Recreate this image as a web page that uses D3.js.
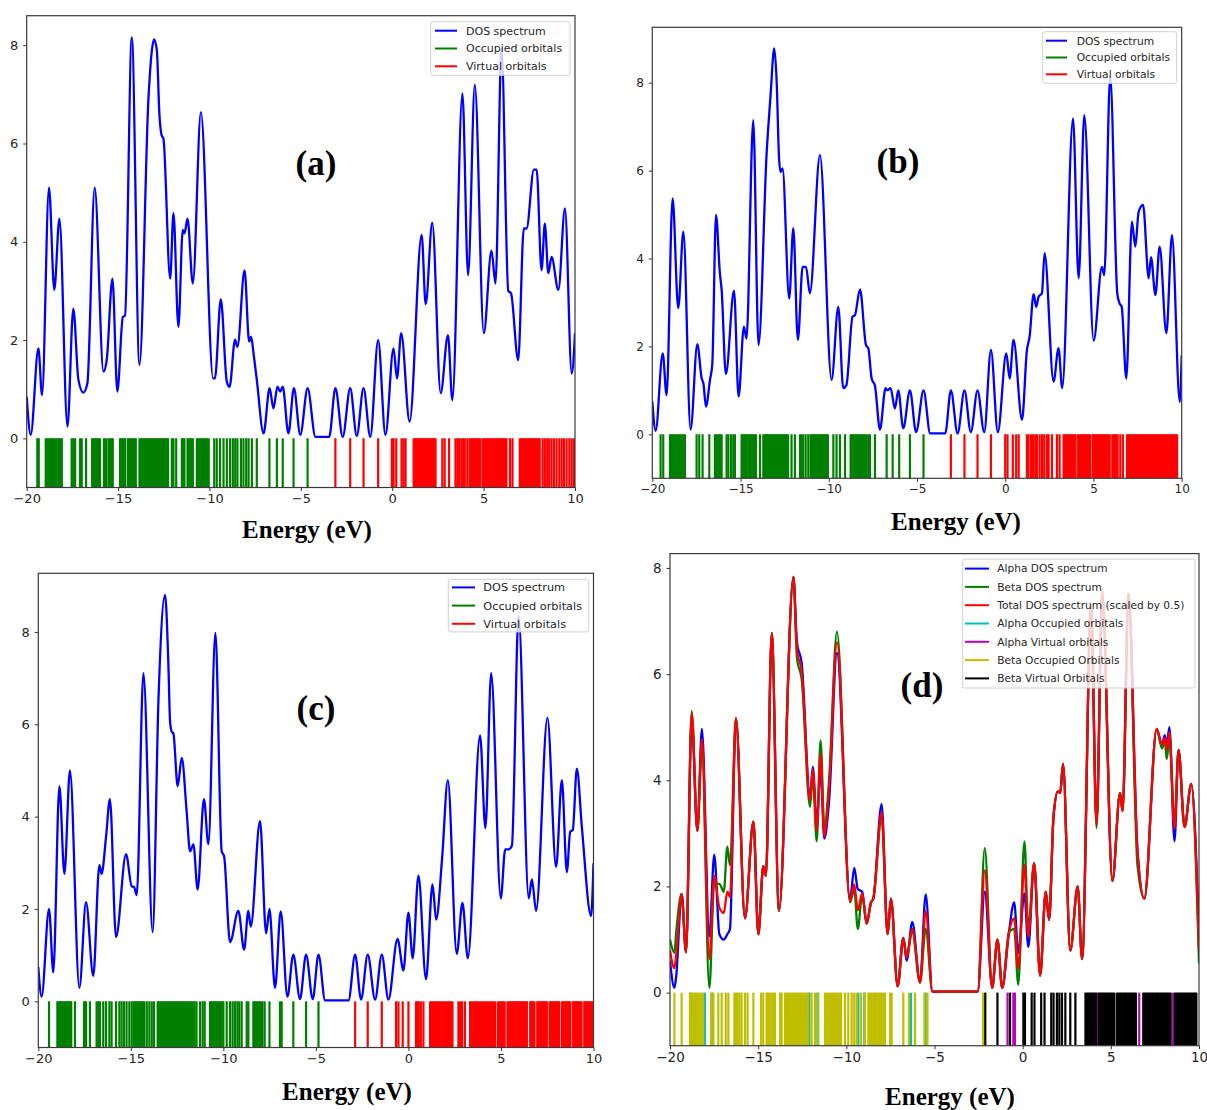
<!DOCTYPE html>
<html>
<head>
<meta charset="utf-8">
<script src="https://cdn.jsdelivr.net/npm/d3@7"></script>
<style>
body { margin: 0; background: #fff; }
</style>
</head>
<body>
<div id="chart-area"></div>
<script>
// ---------- data ----------
var xTicks = [-20, -15, -10, -5, 0, 5, 10];
var yTicks = [0, 2, 4, 6, 8];
var panelNames = ['(a)', '(b)', '(c)', '(d)'];
var xTitle = 'Energy (eV)';
var legendLabels = ['DOS spectrum', 'Occupied orbitals', 'Virtual orbitals'];
var legendLabelsD = ['Alpha DOS spectrum', 'Beta DOS spectrum', 'Total DOS spectrum (scaled by 0.5)',
  'Alpha Occupied orbitals', 'Alpha Virtual orbitals', 'Beta Occupied Orbitals', 'Beta Virtual Orbitals'];

// (a)
var aEnergy = [-20,-19.78,-19.36,-19.16,-18.78,-18.49,-18.21,-17.77,-17.45,-17.17,-16.9,-16.68,-16.28,-15.8,-15.62,-15.31,-15.04,-14.74,-14.62,-14.25,-13.83,-13.34,-13.15,-13.03,-12.88,-12.74,-12.62,-12.52,-12.15,-11.97,-11.7,-11.46,-11.37,-11.2,-10.91,-10.47,-9.8,-9.7,-9.38,-9.05,-8.9,-8.6,-8.47,-8.08,-7.83,-7.72,-7.59,-7.41,-7.04,-6.71,-6.5,-6.28,-6.13,-5.99,-5.68,-5.38,-5.03,-4.63,-4.2,-3.45,-3.11,-2.71,-2.3,-1.94,-1.57,-1.2,-0.77,-0.37,0.07,0.26,0.49,0.95,1.61,1.83,2.19,2.65,3.05,3.29,3.84,4.15,4.52,5.01,5.43,5.65,5.98,6.35,6.5,6.89,7.2,7.35,7.75,7.9,8.17,8.35,8.54,8.72,9.09,9.45,9.82,10];
var aDos = [0.85,0.07,1.83,0.88,5.1,3.02,4.47,0.24,2.64,1.19,0.93,1.12,5.1,1.36,1.6,3.25,0.95,2.47,2.5,8.16,1.49,6.9,7.9,8.12,7.9,6.6,6.17,6.1,3.25,4.58,2.27,4.24,4.17,4.47,3.15,6.64,1.22,1.22,2.83,1.15,1.05,2.01,1.86,3.42,1.97,2.07,1.73,1.19,0.1,1.02,0.61,1.05,0.95,1.05,0.1,1.02,0.07,1.02,0.03,0.03,1.02,0.03,1.02,0.05,1.02,0.03,2.0,0.07,1.83,1.22,2.14,0.34,4.14,2.73,4.39,0.92,2.1,0.78,7.02,3.32,7.19,2.14,3.82,3.15,7.93,3.0,2.95,1.59,4.27,4.27,5.47,5.47,3.42,4.37,3.36,3.69,3.02,4.68,1.32,2.14];
var aOccupied = [-19.42,-19.34,-18.96,-18.88,-18.81,-18.72,-18.67,-18.59,-18.54,-18.45,-18.36,-18.27,-18.21,-18.14,-18.08,-17.54,-17.45,-17.35,-17.08,-16.99,-16.75,-16.42,-16.35,-16.28,-16.2,-16.13,-16.06,-15.99,-15.77,-15.66,-15.53,-15.44,-15.35,-15.29,-14.89,-14.82,-14.74,-14.67,-14.62,-14.47,-14.4,-14.33,-14.25,-14.18,-14.11,-14.03,-13.83,-13.74,-13.68,-13.62,-13.55,-13.48,-13.42,-13.35,-13.28,-13.21,-13.15,-13.08,-13.01,-12.95,-12.88,-12.81,-12.74,-12.68,-12.61,-12.54,-12.47,-12.4,-12.33,-12.27,-12.06,-11.97,-11.82,-11.51,-11.44,-11.37,-11.2,-11.13,-11.06,-10.98,-10.91,-10.69,-10.62,-10.55,-10.48,-10.41,-10.34,-10.27,-10.2,-10.13,-10.04,-9.74,-9.6,-9.42,-9.23,-9.05,-8.87,-8.72,-8.59,-8.47,-8.28,-8.14,-7.99,-7.86,-7.68,-7.41,-6.72,-6.31,-5.99,-5.4,-4.63];
var aVirtual = [-3.11,-2.3,-1.57,-0.77,-0.02,0.07,0.22,0.51,0.62,0.73,1.17,1.24,1.3,1.37,1.44,1.5,1.57,1.64,1.7,1.77,1.84,1.9,1.97,2.03,2.1,2.17,2.23,2.3,2.37,2.74,2.87,3.11,3.46,3.56,3.66,3.78,3.88,3.97,4.11,4.24,4.31,4.39,4.46,4.53,4.61,4.68,4.75,4.83,4.97,5.05,5.12,5.19,5.27,5.34,5.42,5.5,5.58,5.67,5.74,5.81,5.89,5.96,6.03,6.1,6.18,6.25,6.44,6.58,6.98,7.05,7.12,7.2,7.27,7.35,7.42,7.49,7.57,7.64,7.71,7.78,7.86,7.93,8.0,8.07,8.23,8.35,8.48,8.59,8.72,8.85,8.99,9.14,9.27,9.4,9.54,9.69,9.82,9.95];

// (b)
var bEnergy = [-20,-19.81,-19.41,-19.19,-18.85,-18.53,-18.24,-17.83,-17.45,-17.2,-17.1,-16.96,-16.73,-16.6,-16.39,-16.17,-16.07,-15.83,-15.37,-15.11,-14.81,-14.66,-14.28,-13.98,-13.52,-13.3,-13.09,-12.95,-12.82,-12.73,-12.62,-12.24,-12.01,-11.75,-11.48,-11.29,-11.07,-10.5,-9.84,-9.46,-9.18,-9.0,-8.65,-8.52,-8.23,-7.89,-7.76,-7.57,-7.38,-7.1,-6.78,-6.67,-6.5,-6.25,-6.06,-5.78,-5.4,-5.05,-4.63,-4.25,-3.4,-3.08,-2.7,-2.31,-1.95,-1.57,-1.19,-0.81,-0.42,0.06,0.25,0.47,0.95,1.23,1.38,1.61,1.76,1.89,2.08,2.23,2.74,3.02,3.23,3.84,4.16,4.48,5.01,5.48,5.61,5.95,6.35,6.48,6.6,6.86,7.18,7.37,7.56,7.81,8.13,8.26,8.51,8.75,9.13,9.45,9.89,10];
var bDos = [0.75,0.08,1.84,0.89,5.37,2.87,4.61,0.11,2.05,1.27,1.15,0.63,1.24,1.6,4.99,3.66,3.28,1.37,3.27,0.86,2.45,2.18,7.15,2.03,6.4,7.7,8.78,8.0,6.3,5.97,6.05,3.09,4.69,2.15,3.81,3.81,3.21,6.35,1.24,2.9,1.05,1.12,2.68,2.71,3.3,2.03,1.96,1.27,1.1,0.11,1.05,1.0,1.05,0.59,1.0,0.14,1.0,0.05,1.0,0.02,0.02,1.0,0.02,1.0,0.05,1.0,0.05,1.92,0.05,1.84,1.27,2.15,0.33,1.92,2.22,3.19,2.9,3.13,3.21,4.12,1.2,1.96,1.05,7.19,3.55,7.26,2.13,3.81,3.62,8.15,3.2,2.98,2.9,1.27,4.84,4.27,5.06,5.22,3.55,4.03,3.17,4.27,2.3,4.53,0.74,1.8];
var bOccupied = [-19.53,-19.38,-19.0,-18.93,-18.85,-18.77,-18.68,-18.6,-18.5,-18.42,-18.33,-18.25,-18.15,-17.49,-17.34,-17.15,-16.77,-16.45,-16.36,-16.27,-16.17,-16.07,-15.79,-15.69,-15.54,-15.41,-15.32,-14.94,-14.87,-14.79,-14.72,-14.66,-14.56,-14.49,-14.42,-14.34,-14.27,-14.2,-14.13,-13.9,-13.71,-13.64,-13.57,-13.5,-13.43,-13.36,-13.29,-13.22,-13.15,-13.08,-13.01,-12.94,-12.87,-12.8,-12.73,-12.66,-12.59,-12.52,-12.45,-12.38,-12.31,-12.11,-11.92,-11.63,-11.54,-11.45,-11.31,-11.16,-11.03,-10.96,-10.89,-10.82,-10.75,-10.68,-10.61,-10.54,-10.47,-10.4,-10.33,-10.26,-10.19,-10.12,-10.05,-9.74,-9.56,-9.37,-9.08,-8.76,-8.69,-8.6,-8.52,-8.43,-8.35,-8.26,-8.18,-8.1,-8.01,-7.93,-7.85,-7.75,-7.67,-7.38,-6.72,-6.38,-6.01,-5.4,-4.63];
var bVirtual = [-3.08,-2.31,-1.57,-0.81,0.0,0.13,0.43,0.62,0.76,1.23,1.32,1.46,1.57,1.7,1.8,1.95,2.08,2.21,2.36,2.46,2.65,2.93,3.08,3.31,3.38,3.46,3.53,3.61,3.68,3.76,3.83,3.91,3.98,4.13,4.2,4.28,4.35,4.43,4.5,4.58,4.65,4.73,4.8,4.95,5.02,5.1,5.17,5.25,5.32,5.4,5.47,5.55,5.62,5.7,5.77,5.85,5.92,6.07,6.14,6.22,6.29,6.37,6.52,6.67,6.9,6.97,7.05,7.12,7.2,7.27,7.35,7.42,7.5,7.57,7.65,7.72,7.8,7.87,7.95,8.02,8.1,8.17,8.25,8.32,8.4,8.47,8.55,8.62,8.7,8.77,8.85,8.92,9.0,9.07,9.15,9.22,9.3,9.37,9.45,9.52,9.6,9.67,9.74];

// (c)
var cEnergy = [-20,-19.82,-19.42,-19.19,-18.86,-18.59,-18.29,-17.78,-17.42,-17.03,-16.7,-16.58,-16.34,-16.13,-15.8,-15.26,-14.95,-14.83,-14.68,-14.32,-13.82,-13.51,-13.15,-12.97,-12.88,-12.79,-12.7,-12.47,-12.25,-11.98,-11.8,-11.62,-11.39,-11.05,-10.81,-10.43,-10.09,-9.96,-9.64,-9.19,-8.88,-8.65,-8.52,-8.02,-7.69,-7.51,-7.21,-6.9,-6.54,-6.22,-5.86,-5.53,-5.17,-4.86,-4.5,-3.24,-2.88,-2.56,-2.2,-1.8,-1.44,-1.08,-0.59,-0.27,0.0,0.23,0.54,0.95,1.3,1.5,1.82,2.13,2.61,2.92,3.21,3.87,4.16,4.47,4.99,5.23,5.4,5.59,5.95,6.5,6.67,6.9,7.51,7.98,8.29,8.56,8.74,8.88,9.1,9.37,9.87,10];
var cDos = [0.74,0.1,2.0,0.63,4.66,2.76,5.0,0.29,2.15,0.55,2.95,2.76,3.56,4.38,1.39,3.19,2.49,2.48,2.3,7.11,1.5,6.5,8.8,7.28,6.06,5.84,5.8,4.66,5.27,4.09,3.25,3.4,2.42,4.38,3.4,7.98,3.25,3.14,1.28,1.96,1.12,1.96,1.62,3.9,1.47,2.0,0.29,1.95,0.1,1.01,0.05,1.01,0.05,1.01,0.02,0.02,1.01,0.04,1.01,0.04,1.01,0.04,1.35,0.67,1.92,0.93,2.72,0.48,2.53,1.77,3.1,4.79,1.03,2.13,0.93,5.76,3.75,7.11,2.23,3.29,3.29,3.37,8.35,2.23,2.64,1.96,6.14,2.91,4.79,2.8,3.67,3.71,5.04,3.78,1.85,2.99];
var cOccupied = [-19.42,-18.97,-18.9,-18.83,-18.77,-18.7,-18.63,-18.56,-18.49,-18.43,-18.36,-18.29,-18.22,-18.02,-17.53,-17.42,-17.21,-16.85,-16.76,-16.67,-16.49,-16.34,-16.16,-16.04,-15.8,-15.62,-15.5,-15.37,-15.23,-15.08,-14.95,-14.83,-14.76,-14.69,-14.62,-14.55,-14.48,-14.41,-14.34,-14.27,-14.14,-14.0,-13.87,-13.75,-13.55,-13.48,-13.41,-13.34,-13.27,-13.2,-13.13,-13.06,-12.99,-12.92,-12.85,-12.78,-12.71,-12.64,-12.57,-12.5,-12.43,-12.36,-12.29,-12.2,-12.13,-12.06,-11.99,-11.92,-11.85,-11.75,-11.65,-11.55,-11.45,-11.26,-11.12,-11.01,-10.72,-10.65,-10.58,-10.51,-10.44,-10.37,-10.3,-10.23,-10.16,-10.09,-10.0,-9.82,-9.64,-9.5,-9.37,-9.24,-9.14,-9.01,-8.74,-8.65,-8.38,-8.31,-8.24,-8.17,-8.1,-8.03,-7.96,-7.89,-7.77,-7.51,-6.94,-6.85,-6.22,-5.53,-4.86];
var cVirtual = [-2.88,-2.2,-1.44,-0.67,-0.54,-0.31,0.0,0.41,0.49,0.56,0.67,0.81,1.17,1.24,1.31,1.38,1.46,1.53,1.6,1.68,1.75,1.84,1.92,1.99,2.06,2.14,2.22,2.3,2.38,2.7,2.79,2.9,3.05,3.33,3.4,3.48,3.55,3.63,3.7,3.78,3.85,3.93,4.0,4.08,4.15,4.23,4.3,4.38,4.45,4.53,4.6,4.68,4.83,4.9,4.98,5.05,5.13,5.2,5.35,5.43,5.5,5.58,5.65,5.73,5.8,5.88,5.95,6.03,6.1,6.18,6.25,6.33,6.4,6.58,6.66,6.73,6.81,6.96,7.03,7.11,7.18,7.26,7.33,7.41,7.48,7.63,7.7,7.78,7.85,7.93,8.0,8.08,8.15,8.3,8.38,8.45,8.53,8.6,8.68,8.75,8.9,8.98,9.05,9.13,9.2,9.28,9.35,9.5,9.58,9.65,9.73,9.8,9.88,9.96];

// (d) open shell: alpha, beta and half the total
var dEnergy = [-20,-19.75,-19.65,-19.34,-19.09,-18.77,-18.45,-18.19,-17.77,-17.49,-17.2,-16.95,-16.75,-16.6,-16.26,-15.75,-15.27,-14.99,-14.71,-14.56,-14.23,-13.82,-13.0,-12.8,-12.53,-12.06,-11.9,-11.68,-11.46,-11.25,-10.98,-10.53,-9.79,-9.55,-9.35,-9.1,-8.85,-8.6,-8.47,-8.0,-7.66,-7.47,-7.09,-6.77,-6.58,-6.26,-5.82,-5.5,-5.12,-2.55,-2.15,-1.73,-1.43,-1.16,-0.78,-0.48,-0.25,0.1,0.32,0.65,0.99,1.31,1.5,1.75,2.0,2.13,2.29,2.7,3.12,3.37,3.88,4.19,4.51,5.09,5.52,5.67,6.0,6.51,6.9,7.6,7.9,8.06,8.17,8.32,8.61,8.84,9.18,9.56,10];
var dAlphaDos = [0.6,0.09,0.3,1.86,0.76,5.2,3.05,4.97,1.06,2.6,1.1,1.0,1.1,1.2,5.17,1.4,3.22,1.1,2.38,2.2,6.77,1.54,7.83,6.6,6.2,3.7,4.25,3.2,4.2,2.9,3.6,6.4,1.75,2.35,1.95,1.9,1.3,1.7,1.77,3.55,1.1,1.77,0.12,1.03,0.6,1.33,0.19,1.85,0.02,0.02,1.9,0.09,1.0,0.09,1.13,1.7,0.75,1.87,0.86,2.44,0.32,1.9,1.37,3.32,3.79,3.76,4.31,0.79,2.0,0.63,7.3,3.19,7.5,2.1,3.76,3.42,7.52,2.7,1.77,4.97,4.67,4.85,4.65,5.0,2.85,4.57,3.12,3.93,1.1];
var dBetaDos = [1.0,0.75,1.13,1.86,0.76,5.3,3.05,4.6,0.09,2.05,2.05,1.9,2.75,2.4,5.17,1.4,3.22,1.1,2.38,2.2,6.77,1.54,7.83,6.3,5.9,3.5,4.1,2.85,4.75,3.1,4.0,6.8,1.7,1.95,1.2,1.85,1.3,1.7,1.77,3.3,1.1,1.77,0.12,1.03,0.7,1.15,0.19,1.2,0.02,0.02,2.72,0.09,1.0,0.09,1.13,1.2,0.15,2.85,1.2,2.44,0.32,1.9,1.37,3.32,3.79,3.76,4.31,0.79,2.0,0.63,7.3,3.1,7.6,2.1,3.76,3.42,7.52,2.4,1.77,4.97,4.6,4.75,4.4,4.8,3.2,4.57,3.12,3.93,0.55];
var dTotalDos = [0.8,0.46,0.7,1.86,0.76,5.27,3.05,4.77,0.63,2.2,1.6,1.5,1.9,1.8,5.17,1.4,3.22,1.1,2.38,2.2,6.77,1.54,7.83,6.45,6.05,3.62,4.2,3.05,4.5,2.95,3.85,6.6,1.72,2.04,1.55,1.87,1.3,1.7,1.77,3.4,1.1,1.77,0.12,1.03,0.66,1.2,0.19,1.54,0.02,0.02,2.3,0.09,1.0,0.09,1.13,1.4,0.45,2.41,1.05,2.44,0.32,1.9,1.37,3.32,3.79,3.76,4.31,0.79,2.0,0.63,7.3,3.15,7.55,2.1,3.76,3.42,7.52,2.65,1.77,4.97,4.67,4.8,4.57,4.9,3.08,4.57,3.12,3.93,0.8];
var dAlphaOccupied = [-18.02,-17.6,-12.1,-11.64,-9.32,-8.98,-6.33,-5.5];
var dAlphaVirtual = [-0.86,-0.53,-0.44,4.23,6.61,8.51];
var dBetaOccupied = [-19.75,-19.34,-18.87,-18.81,-18.74,-18.66,-18.57,-18.49,-18.4,-18.31,-18.21,-18.12,-17.67,-17.54,-17.26,-17.07,-16.84,-16.69,-16.35,-16.26,-16.16,-16.06,-15.94,-15.75,-15.6,-15.27,-14.84,-14.71,-14.52,-14.44,-14.35,-14.25,-14.15,-14.05,-13.76,-13.67,-13.48,-13.4,-13.32,-13.24,-13.15,-13.06,-12.97,-12.88,-12.8,-12.71,-12.62,-12.53,-12.44,-12.35,-12.26,-12.18,-11.97,-11.78,-11.59,-11.21,-11.12,-11.03,-10.94,-10.85,-10.76,-10.67,-10.58,-10.49,-10.4,-10.3,-10.08,-9.89,-9.7,-9.55,-9.41,-9.17,-8.94,-8.75,-8.66,-8.56,-8.47,-8.37,-8.28,-8.19,-8.09,-8.0,-7.9,-7.81,-7.52,-7.43,-6.77,-6.45,-6.1,-5.57,-5.4,-2.24];
var dBetaVirtual = [-2.12,-1.43,-0.72,0.04,0.13,0.51,0.67,1.05,1.24,1.62,1.75,1.94,2.08,2.23,2.42,2.7,2.99,3.56,3.63,3.71,3.79,3.86,3.94,4.02,4.1,4.17,4.33,4.41,4.48,4.56,4.64,4.71,4.79,4.87,4.95,5.02,5.1,5.18,5.33,5.41,5.49,5.56,5.64,5.72,5.8,5.87,5.95,6.03,6.1,6.18,6.26,6.34,6.42,6.84,6.92,7.0,7.07,7.15,7.23,7.31,7.38,7.46,7.54,7.62,7.69,7.77,7.85,7.92,8.0,8.08,8.16,8.23,8.31,8.39,8.62,8.7,8.78,8.85,8.93,9.01,9.09,9.16,9.24,9.32,9.4,9.47,9.55,9.63,9.7,9.78,9.85];

// ---------- drawing ----------
var svg = d3.select('#chart-area').append('svg')
            .attr('width', 1207)
            .attr('height', 1110)
            .style('font-family', '"DejaVu Sans", sans-serif');

function zip(xs, ys) {
  return xs.map(function(x, i) { return {e: x, v: ys[i]}; });
}

// layout of each panel, in page pixels
var panels = [
  {name: panelNames[0], left: 26.7, right: 575, top: 15.7, bottom: 487.5, yMax: 8.6, tickFont: 13,
   nameX: 316, nameY: 175, titleX: 307, titleY: 538,
   curves: [{data: zip(aEnergy, aDos), color: '#0000ff'}],
   orbitals: [{data: aOccupied, color: '#008000'}, {data: aVirtual, color: '#ff0000'}],
   legend: {left: 430.7, top: 21.7, right: 570, rowY: 30.7, rowH: 17.8, font: 11, lineX: 435, lineX2: 457, textX: 466,
            labels: legendLabels, colors: ['#0000ff', '#008000', '#ff0000']}},
  {name: panelNames[1], left: 652.3, right: 1181.7, top: 27.3, bottom: 478.3, yMax: 9.26, tickFont: 12,
   nameX: 898, nameY: 173, titleX: 956, titleY: 530,
   curves: [{data: zip(bEnergy, bDos), color: '#0000ff'}],
   orbitals: [{data: bOccupied, color: '#008000'}, {data: bVirtual, color: '#ff0000'}],
   legend: {left: 1042.7, top: 31.7, right: 1176.7, rowY: 40.7, rowH: 16.8, font: 10.7, lineX: 1046, lineX2: 1067, textX: 1076.7,
            labels: legendLabels, colors: ['#0000ff', '#008000', '#ff0000']}},
  {name: panelNames[2], left: 38.3, right: 593.5, top: 573.3, bottom: 1047.5, yMax: 9.27, tickFont: 13,
   nameX: 316, nameY: 720, titleX: 347, titleY: 1100,
   curves: [{data: zip(cEnergy, cDos), color: '#0000ff'}],
   orbitals: [{data: cOccupied, color: '#008000'}, {data: cVirtual, color: '#ff0000'}],
   legend: {left: 448.3, top: 579.3, right: 588.7, rowY: 587.4, rowH: 18.2, font: 11.3, lineX: 452, lineX2: 475, textX: 483.3,
            labels: legendLabels, colors: ['#0000ff', '#008000', '#ff0000']}},
  {name: panelNames[3], left: 670, right: 1199, top: 553.6, bottom: 1045.7, yMax: 8.27, tickFont: 13.5,
   nameX: 922, nameY: 697, titleX: 950, titleY: 1105,
   curves: [{data: zip(dEnergy, dAlphaDos), color: '#0000ff'},
            {data: zip(dEnergy, dBetaDos), color: '#008000'},
            {data: zip(dEnergy, dTotalDos), color: '#ff0000'}],
   orbitals: [{data: dAlphaOccupied, color: '#00bfbf'}, {data: dAlphaVirtual, color: '#bf00bf'},
              {data: dBetaOccupied, color: '#bfbf00'}, {data: dBetaVirtual, color: '#000000'}],
   legend: {left: 962.7, top: 559, right: 1195, rowY: 568.6, rowH: 18.3, font: 10.6, lineX: 965, lineX2: 989, textX: 997.3,
            labels: legendLabelsD, colors: ['#0000ff', '#008000', '#ff0000', '#00bfbf', '#bf00bf', '#bfbf00', '#000000']}}
];

panels.forEach(function(p, idx) {
  var xScale = d3.scaleLinear().domain([-20, 10]).range([p.left, p.right]);
  var yScale = d3.scaleLinear().domain([-1, p.yMax]).range([p.bottom, p.top]);
  var g = svg.append('g');

  g.append('clipPath').attr('id', 'clip' + idx)
   .append('rect')
   .attr('x', p.left).attr('y', p.top)
   .attr('width', p.right - p.left).attr('height', p.bottom - p.top);

  var plot = g.append('g').attr('clip-path', 'url(#clip' + idx + ')');

  // orbital energy sticks, from 0 down to the bottom of the frame
  p.orbitals.forEach(function(o) {
    plot.append('g').selectAll('line')
        .data(o.data)
        .enter().append('line')
        .attr('x1', function(d) { return xScale(d); })
        .attr('x2', function(d) { return xScale(d); })
        .attr('y1', yScale(0))
        .attr('y2', yScale(-1))
        .attr('stroke', o.color)
        .attr('stroke-width', 2.2);
  });

  var line = d3.line()
               .x(function(d) { return xScale(d.e); })
               .y(function(d) { return yScale(d.v); })
               .curve(d3.curveMonotoneX);

  p.curves.forEach(function(c) {
    plot.append('path')
        .attr('d', line(c.data))
        .attr('fill', 'none')
        .attr('stroke', c.color)
        .attr('stroke-width', 2.3)
        .attr('stroke-linejoin', 'round');
  });

  // axes
  var xAxis = d3.axisBottom(xScale).tickValues(xTicks).tickSize(3.5).tickPadding(3);
  var yAxis = d3.axisLeft(yScale).tickValues(yTicks).tickSize(3.5).tickPadding(5);
  var xAxisG = g.append('g').attr('transform', 'translate(0,' + p.bottom + ')').call(xAxis);
  var yAxisG = g.append('g').attr('transform', 'translate(' + p.left + ',0)').call(yAxis);
  [xAxisG, yAxisG].forEach(function(a) {
    a.select('.domain').remove();
    a.selectAll('.tick line').attr('stroke', '#333');
    a.selectAll('.tick text')
     .attr('fill', '#262626')
     .style('font-family', '"DejaVu Sans", sans-serif')
     .style('font-size', p.tickFont + 'px');
  });

  g.append('rect')
   .attr('x', p.left).attr('y', p.top)
   .attr('width', p.right - p.left).attr('height', p.bottom - p.top)
   .attr('fill', 'none')
   .attr('stroke', '#3a3a3a')
   .attr('stroke-width', 1.2);

  // legend
  var L = p.legend;
  var rows = L.labels.length;
  g.append('rect')
   .attr('x', L.left).attr('y', L.top)
   .attr('width', L.right - L.left)
   .attr('height', (L.rowY - L.top) * 2 + (rows - 1) * L.rowH)
   .attr('rx', 2.5)
   .attr('fill', '#fff').attr('fill-opacity', 0.8)
   .attr('stroke', '#d0d0d0').attr('stroke-width', 1);
  L.labels.forEach(function(lab, i) {
    var yy = L.rowY + i * L.rowH;
    g.append('line')
     .attr('x1', L.lineX).attr('x2', L.lineX2)
     .attr('y1', yy).attr('y2', yy)
     .attr('stroke', L.colors[i]).attr('stroke-width', 2);
    g.append('text')
     .attr('x', L.textX).attr('y', yy)
     .attr('dy', '0.36em')
     .attr('fill', '#262626')
     .style('font-size', L.font + 'px')
     .text(lab);
  });

  // panel letter and axis title
  g.append('text')
   .attr('x', p.nameX).attr('y', p.nameY)
   .attr('text-anchor', 'middle')
   .style('font-family', '"Liberation Serif", "Times New Roman", serif')
   .style('font-weight', 'bold')
   .style('font-size', '35px')
   .attr('fill', '#000')
   .text(p.name);

  g.append('text')
   .attr('x', p.titleX).attr('y', p.titleY)
   .attr('text-anchor', 'middle')
   .style('font-family', '"Liberation Serif", "Times New Roman", serif')
   .style('font-weight', 'bold')
   .style('font-size', '25px')
   .attr('fill', '#000')
   .text(xTitle);
});
</script>
</body>
</html>
